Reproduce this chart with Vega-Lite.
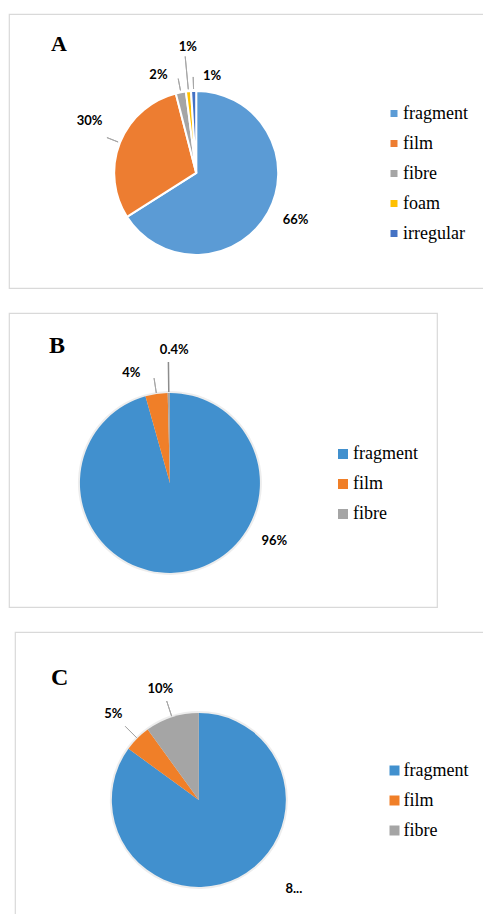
{
  "$schema": "https://vega.github.io/schema/vega-lite/v6.json",
  "padding": {"left": 8, "top": 13, "right": 0, "bottom": 0},
  "spacing": 25,
  "bounds": "flush",
  "background": "#ffffff",
  "config": {
    "view": {"stroke": "#D9D9D9", "strokeWidth": 1.2},
    "font": "Liberation Serif"
  },
  "datasets": {
    "a": [
      {"cat": "fragment", "value": 66, "rank": 1, "label": "66%"},
      {"cat": "film", "value": 30, "rank": 2, "label": "30%"},
      {"cat": "fibre", "value": 2, "rank": 3, "label": "2%"},
      {"cat": "foam", "value": 1, "rank": 4, "label": "1%"},
      {"cat": "irregular", "value": 1, "rank": 5, "label": "1%"}
    ],
    "b": [
      {"cat": "fragment", "value": 96, "rank": 1, "label": "96%"},
      {"cat": "film", "value": 4, "rank": 2, "label": "4%"},
      {"cat": "fibre", "value": 0.4, "rank": 3, "label": "0.4%"}
    ],
    "c": [
      {"cat": "fragment", "value": 85, "rank": 1, "label": "8..."},
      {"cat": "film", "value": 5, "rank": 2, "label": "5%"},
      {"cat": "fibre", "value": 10, "rank": 3, "label": "10%"}
    ]
  },
  "resolve": {
    "scale": {"color": "independent", "theta": "independent", "x": "independent", "y": "independent"},
    "legend": {"color": "independent"}
  },
  "vconcat": [
    {
      "width": 480,
      "height": 274,
      "data": {"name": "a"},
      "encoding": {
        "x": {"datum": 0.39, "type": "quantitative", "scale": {"domain": [0, 1]}, "axis": null},
        "y": {"datum": 0.58, "type": "quantitative", "scale": {"domain": [0, 1], "reverse": true}, "axis": null},
        "theta": {"field": "value", "type": "quantitative", "stack": true},
        "order": {"field": "rank", "type": "quantitative"}
      },
      "layer": [
        {
          "mark": {"type": "arc", "outerRadius": 82, "stroke": "#ffffff", "strokeWidth": 2},
          "encoding": {
            "color": {
              "field": "cat", "type": "nominal",
              "sort": ["fragment", "film", "fibre", "foam", "irregular"],
              "scale": {"domain": ["fragment", "film", "fibre", "foam", "irregular"], "range": ["#5B9BD5", "#ED7D31", "#A5A5A5", "#FFC000", "#4472C4"]},
              "legend": {"orient": "none", "legendX": 376, "legendY": 90.5, "title": null, "symbolType": "square", "symbolSize": 49, "symbolStrokeWidth": 0, "labelFont": "Liberation Serif", "labelFontSize": 18, "labelColor": "#000000", "rowPadding": 12, "labelOffset": 0}
            }
          }
        },
        {
          "mark": {"type": "arc", "innerRadius": 84, "outerRadius": 96, "padAngle": 3.1416, "fill": "transparent", "stroke": "#A6A6A6", "strokeWidth": 1},
          "encoding": {"detail": {"field": "cat"}, "strokeOpacity": {"condition": {"test": "datum.cat === 'film' || datum.cat === 'fibre' || datum.cat === 'irregular'", "value": 1}, "value": 0}}
        },
        {
          "mark": {"type": "arc", "innerRadius": 84, "outerRadius": 117, "padAngle": 3.1416, "fill": "transparent", "stroke": "#A6A6A6", "strokeWidth": 1},
          "encoding": {"detail": {"field": "cat"}, "strokeOpacity": {"condition": {"test": "datum.cat === 'foam'", "value": 1}, "value": 0}}
        },
        {
          "mark": {"type": "text", "radius": 110, "dx": 3, "dy": -6, "font": "Lato", "fontWeight": "bold", "fontSize": 13, "fill": "#000000"},
          "encoding": {"detail": {"field": "cat"}, "text": {"condition": {"test": "datum.cat === 'fragment'", "field": "label"}, "value": ""}}
        },
        {
          "mark": {"type": "text", "radius": 118, "dx": 3, "dy": -8, "font": "Lato", "fontWeight": "bold", "fontSize": 13, "fill": "#000000"},
          "encoding": {"detail": {"field": "cat"}, "text": {"condition": {"test": "datum.cat === 'film'", "field": "label"}, "value": ""}}
        },
        {
          "mark": {"type": "text", "radius": 100, "dx": -19, "dy": 0, "font": "Lato", "fontWeight": "bold", "fontSize": 13, "fill": "#000000"},
          "encoding": {"detail": {"field": "cat"}, "text": {"condition": {"test": "datum.cat === 'fibre'", "field": "label"}, "value": ""}}
        },
        {
          "mark": {"type": "text", "radius": 100, "dx": 1, "dy": -26, "font": "Lato", "fontWeight": "bold", "fontSize": 13, "fill": "#000000"},
          "encoding": {"detail": {"field": "cat"}, "text": {"condition": {"test": "datum.cat === 'foam'", "field": "label"}, "value": ""}}
        },
        {
          "mark": {"type": "text", "radius": 100, "dx": 19, "dy": 3, "font": "Lato", "fontWeight": "bold", "fontSize": 13, "fill": "#000000"},
          "encoding": {"detail": {"field": "cat"}, "text": {"condition": {"test": "datum.cat === 'irregular'", "field": "label"}, "value": ""}}
        },
        {
          "data": {"values": [{"panel": "A"}]},
          "mark": {"type": "text", "align": "left", "baseline": "alphabetic", "font": "Liberation Serif", "fontWeight": "bold", "fontSize": 22, "fill": "#000000"},
          "encoding": {
            "x": {"datum": 0.0875, "type": "quantitative"},
            "y": {"datum": 0.135, "type": "quantitative"},
            "theta": null, "order": null,
            "text": {"field": "panel"}
          }
        }
      ]
    },
    {
      "width": 428,
      "height": 294,
      "data": {"name": "b"},
      "encoding": {
        "x": {"datum": 0.376, "type": "quantitative", "scale": {"domain": [0, 1]}, "axis": null},
        "y": {"datum": 0.578, "type": "quantitative", "scale": {"domain": [0, 1], "reverse": true}, "axis": null},
        "theta": {"field": "value", "type": "quantitative", "stack": true},
        "order": {"field": "rank", "type": "quantitative"}
      },
      "layer": [
        {
          "mark": {"type": "arc", "outerRadius": 92, "fill": "#000000", "fillOpacity": 0.07},
          "encoding": {"detail": {"field": "cat"}}
        },
        {
          "mark": {"type": "arc", "outerRadius": 90},
          "encoding": {
            "color": {
              "field": "cat", "type": "nominal",
              "sort": ["fragment", "film", "fibre"],
              "scale": {"domain": ["fragment", "film", "fibre"], "range": ["#4190CE", "#F07F28", "#A5A5A5"]},
              "legend": {"orient": "none", "legendX": 325, "legendY": 132, "title": null, "symbolType": "square", "symbolSize": 100, "symbolStrokeWidth": 0, "labelFont": "Liberation Serif", "labelFontSize": 18, "labelColor": "#000000", "rowPadding": 12, "labelOffset": 1}
            }
          }
        },
        {
          "mark": {"type": "arc", "innerRadius": 91, "outerRadius": 106, "padAngle": 3.1416, "fill": "transparent", "stroke": "#A6A6A6", "strokeWidth": 1},
          "encoding": {"detail": {"field": "cat"}, "strokeOpacity": {"condition": {"test": "datum.cat === 'film'", "value": 1}, "value": 0}}
        },
        {
          "mark": {"type": "arc", "innerRadius": 91, "outerRadius": 121, "padAngle": 3.1416, "fill": "transparent", "stroke": "#8C8C8C", "strokeWidth": 1.5},
          "encoding": {"detail": {"field": "cat"}, "strokeOpacity": {"condition": {"test": "datum.cat === 'fibre'", "value": 1}, "value": 0}}
        },
        {
          "mark": {"type": "text", "radius": 120, "dx": 88, "dy": -61, "font": "Lato", "fontWeight": "bold", "fontSize": 13, "fill": "#000000"},
          "encoding": {"detail": {"field": "cat"}, "text": {"condition": {"test": "datum.cat === 'fragment'", "field": "label"}, "value": ""}}
        },
        {
          "mark": {"type": "text", "radius": 117, "dx": -21, "dy": 6, "font": "Lato", "fontWeight": "bold", "fontSize": 13, "fill": "#000000"},
          "encoding": {"detail": {"field": "cat"}, "text": {"condition": {"test": "datum.cat === 'film'", "field": "label"}, "value": ""}}
        },
        {
          "mark": {"type": "text", "radius": 133, "dx": 6, "dy": 0, "font": "Lato", "fontWeight": "bold", "fontSize": 13, "fill": "#000000"},
          "encoding": {"detail": {"field": "cat"}, "text": {"condition": {"test": "datum.cat === 'fibre'", "field": "label"}, "value": ""}}
        },
        {
          "data": {"values": [{"panel": "B"}]},
          "mark": {"type": "text", "align": "left", "baseline": "alphabetic", "font": "Liberation Serif", "fontWeight": "bold", "fontSize": 24, "fill": "#000000"},
          "encoding": {
            "x": {"datum": 0.0935, "type": "quantitative"},
            "y": {"datum": 0.136, "type": "quantitative"},
            "theta": null, "order": null,
            "text": {"field": "panel"}
          }
        }
      ]
    },
    {
      "hconcat": [
        {
          "width": 6,
          "height": 290,
          "data": {"values": [{"panel": "spacer"}]},
          "mark": {"type": "point", "opacity": 0},
          "view": {"stroke": null}
        },
        {
          "width": 480,
          "height": 290,
          "data": {"name": "c"},
          "encoding": {
            "x": {"datum": 0.383, "type": "quantitative", "scale": {"domain": [0, 1]}, "axis": null},
            "y": {"datum": 0.579, "type": "quantitative", "scale": {"domain": [0, 1], "reverse": true}, "axis": null},
            "theta": {"field": "value", "type": "quantitative", "stack": true},
            "order": {"field": "rank", "type": "quantitative"}
          },
          "layer": [
            {
              "mark": {"type": "arc", "outerRadius": 89, "fill": "#000000", "fillOpacity": 0.07},
              "encoding": {"detail": {"field": "cat"}}
            },
            {
              "mark": {"type": "arc", "outerRadius": 87},
              "encoding": {
                "color": {
                  "field": "cat", "type": "nominal",
                  "sort": ["fragment", "film", "fibre"],
                  "scale": {"domain": ["fragment", "film", "fibre"], "range": ["#4190CE", "#F07F28", "#A5A5A5"]},
                  "legend": {"orient": "none", "legendX": 376.5, "legendY": 129.5, "title": null, "symbolType": "square", "symbolSize": 100, "symbolStrokeWidth": 0, "labelFont": "Liberation Serif", "labelFontSize": 18, "labelColor": "#000000", "rowPadding": 12, "labelOffset": 0}
                }
              }
            },
            {
              "mark": {"type": "arc", "innerRadius": 88, "outerRadius": 104, "padAngle": 3.1416, "fill": "transparent", "stroke": "#A6A6A6", "strokeWidth": 1},
              "encoding": {"detail": {"field": "cat"}, "strokeOpacity": {"condition": {"test": "datum.cat === 'film' || datum.cat === 'fibre'", "value": 1}, "value": 0}}
            },
            {
              "mark": {"type": "text", "radius": 130, "dx": 36, "dy": -27, "font": "Lato", "fontWeight": "bold", "fontSize": 13, "fill": "#000000"},
              "encoding": {"detail": {"field": "cat"}, "text": {"condition": {"test": "datum.cat === 'fragment'", "field": "label"}, "value": ""}}
            },
            {
              "mark": {"type": "text", "radius": 121, "dx": 0, "dy": 0, "font": "Lato", "fontWeight": "bold", "fontSize": 13, "fill": "#000000"},
              "encoding": {"detail": {"field": "cat"}, "text": {"condition": {"test": "datum.cat === 'film'", "field": "label"}, "value": ""}}
            },
            {
              "mark": {"type": "text", "radius": 118, "dx": -2, "dy": 1, "font": "Lato", "fontWeight": "bold", "fontSize": 13, "fill": "#000000"},
              "encoding": {"detail": {"field": "cat"}, "text": {"condition": {"test": "datum.cat === 'fibre'", "field": "label"}, "value": ""}}
            },
            {
              "data": {"values": [{"panel": "C"}]},
              "mark": {"type": "text", "align": "left", "baseline": "alphabetic", "font": "Liberation Serif", "fontWeight": "bold", "fontSize": 24, "fill": "#000000"},
              "encoding": {
                "x": {"datum": 0.075, "type": "quantitative"},
                "y": {"datum": 0.183, "type": "quantitative"},
                "theta": null, "order": null,
                "text": {"field": "panel"}
              }
            }
          ]
        }
      ],
      "spacing": 0,
      "bounds": "flush"
    }
  ]
}
